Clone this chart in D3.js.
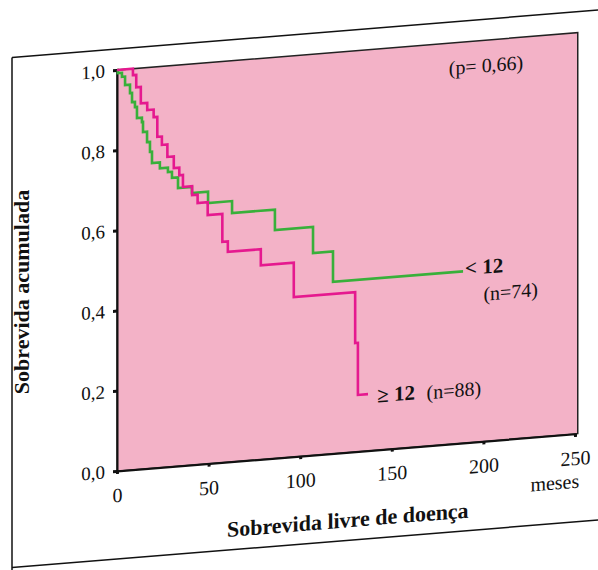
<!DOCTYPE html>
<html>
<head>
<meta charset="utf-8">
<script src="https://cdn.jsdelivr.net/npm/d3@7"></script>
<style>
  body { margin: 0; background: #fff; }
  svg text { font-family: "Liberation Serif", "Times New Roman", serif; fill: #111; }
</style>
</head>
<body>
<div id="chart"></div>
<script>
// values (months, cumulative survival)
let lowTimes = [0, 0.5, 2.7, 4.4, 7.1, 8.2, 9.8, 10.9, 13.6, 14.2, 16.4, 18.0, 19.1, 23.4, 27.8, 30.0, 33.3, 40.9, 49.7, 62.8, 86.2, 107, 117.9, 188.9]
let lowSurv  = [1, 0.992, 0.982, 0.961, 0.940, 0.917, 0.904, 0.876, 0.865, 0.840, 0.814, 0.789, 0.761, 0.746, 0.735, 0.720, 0.693, 0.678, 0.650, 0.620, 0.569, 0.504, 0.428, 0.428]
let highTimes = [0, 8.7, 10.5, 13, 16.5, 20, 22, 24.5, 27.5, 31, 34, 36, 41, 44, 49.5, 57.5, 60.5, 78.5, 96.5, 130, 131.5, 137]
let highSurv  = [1, 0.984, 0.953, 0.912, 0.894, 0.875, 0.825, 0.804, 0.773, 0.744, 0.725, 0.695, 0.673, 0.652, 0.620, 0.550, 0.524, 0.484, 0.398, 0.271, 0.141, 0.141]
let xTicks = [0, 50, 100, 150, 200, 250]
let yTicks = [0, 0.2, 0.4, 0.6, 0.8, 1.0]

let width = 598,
    height = 570,
    plotW = 458,
    plotH = 401

let svg = d3.select("#chart").append("svg")
  .attr("width", width)
  .attr("height", height)

let x = d3.scaleLinear().domain([0, 250]).range([0, plotW])
let y = d3.scaleLinear().domain([0, 1]).range([plotH, 0])

// the scanned page is sheared: everything climbs to the right
let g = svg.append("g")
  .attr("transform", "translate(117,70) skewY(" + (Math.atan(-0.081) * 180 / Math.PI) + ")")

// outer figure frame
g.append("line").attr("x1", -105).attr("x2", 490).attr("y1", -21).attr("y2", -21)
  .attr("stroke", "#111").attr("stroke-width", 1.5)
g.append("line").attr("x1", -105).attr("x2", 490).attr("y1", 489).attr("y2", 489)
  .attr("stroke", "#111").attr("stroke-width", 1.5)
g.append("line").attr("x1", -105).attr("x2", -105).attr("y1", -21).attr("y2", 520)
  .attr("stroke", "#111").attr("stroke-width", 1.5)

// pink plot area
g.append("rect")
  .attr("x", 0).attr("y", 0)
  .attr("width", x(251.5)).attr("height", plotH)
  .attr("fill", "#f3b2c7")
  .attr("stroke", "#222").attr("stroke-width", 1.5)

let fmt = d => d3.format(".1f")(d).replace(".", ",")

let yAxis = g.append("g")
  .call(d3.axisLeft(y).tickValues(yTicks).tickSize(4).tickPadding(8).tickFormat(fmt))
yAxis.select(".domain").attr("stroke", "#111").attr("stroke-width", 2)
yAxis.selectAll(".tick line").attr("stroke", "#111").attr("stroke-width", 3)
yAxis.selectAll("text").attr("font-size", 19).style("font-family", "Liberation Serif")

let xAxis = g.append("g")
  .attr("transform", "translate(0," + plotH + ")")
  .call(d3.axisBottom(x).tickValues(xTicks).tickSize(3).tickPadding(14).tickFormat(d3.format("d")))
xAxis.select(".domain").attr("stroke", "#111").attr("stroke-width", 2)
xAxis.selectAll(".tick line").attr("stroke", "#111").attr("stroke-width", 3)
xAxis.selectAll("text").attr("font-size", 20).style("font-family", "Liberation Serif")

// survival curves
let line = d3.line()
  .x(d => x(d[0]))
  .y(d => y(d[1]))
  .curve(d3.curveStepAfter)

g.append("path")
  .datum(d3.zip(lowTimes, lowSurv))
  .attr("d", line)
  .attr("fill", "none")
  .attr("stroke", "#38b03a")
  .attr("stroke-width", 2.6)

g.append("path")
  .datum(d3.zip(highTimes, highSurv))
  .attr("d", line)
  .attr("fill", "none")
  .attr("stroke", "#e5198f")
  .attr("stroke-width", 2.6)

// annotations
g.append("text").attr("x", 369).attr("y", 32)
  .attr("text-anchor", "middle").attr("font-size", 20)
  .text("(p= 0,66)")

g.append("text").attr("x", x(190)).attr("y", y(0.428) + 4)
  .attr("font-size", 21).attr("font-weight", "bold")
  .text("< 12")
g.append("text").attr("x", x(200)).attr("y", y(0.428) + 31)
  .attr("font-size", 20)
  .text("(n=74)")

g.append("text").attr("x", x(142)).attr("y", y(0.141) + 9)
  .attr("font-size", 21).attr("font-weight", "bold")
  .text("≥ 12")
g.append("text").attr("x", x(169)).attr("y", y(0.141) + 10)
  .attr("font-size", 20)
  .text("(n=88)")

g.append("text").attr("x", x(239)).attr("y", plotH + 54)
  .attr("text-anchor", "middle").attr("font-size", 20)
  .text("meses")

g.append("text").attr("x", x(126)).attr("y", plotH + 75)
  .attr("text-anchor", "middle").attr("font-size", 22).attr("font-weight", "bold")
  .text("Sobrevida livre de doença")

svg.append("text")
  .attr("transform", "translate(29,292) rotate(-90)")
  .attr("text-anchor", "middle").attr("font-size", 22).attr("font-weight", "bold")
  .text("Sobrevida acumulada")
</script>
</body>
</html>
